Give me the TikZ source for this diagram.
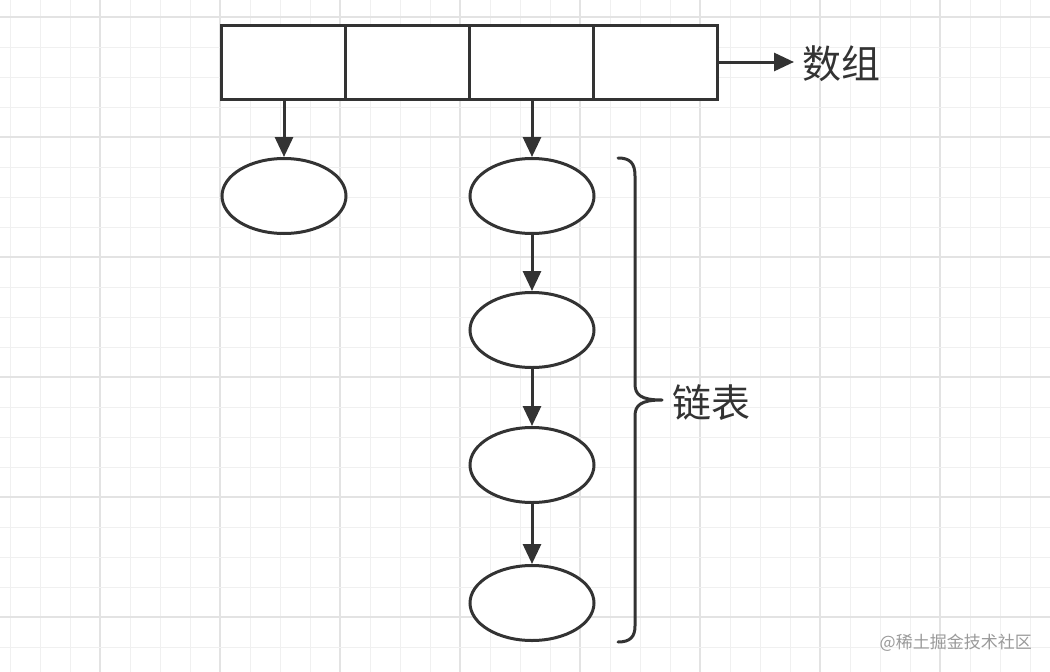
\documentclass[tikz,border=0pt]{standalone}
\usepackage{fontspec}
\newfontfamily\cjk{Noto Sans CJK SC}
\usetikzlibrary{arrows.meta,shapes.geometric}
\definecolor{ink}{HTML}{333333}
\definecolor{gridminor}{HTML}{F0F0F0}
\definecolor{gridmajor}{HTML}{E3E3E3}
\definecolor{wm}{HTML}{9A9A9A}
\tikzset{
  cellbox/.style={draw=ink, line width=3pt, minimum width=124pt, minimum height=74pt, inner sep=0pt, fill=white},
  listnode/.style={draw=ink, line width=3pt, ellipse, minimum width=124pt, minimum height=75pt, inner sep=0pt, fill=white},
  link/.style={draw=ink, line width=3pt, -{Triangle[length=20pt,width=18pt]}},
  label/.style={font=\cjk\fontsize{39}{42}\selectfont, text=ink, inner sep=0pt},
}
\begin{document}
\begin{tikzpicture}[x=1pt,y=-1pt]
\useasboundingbox (0,0) rectangle (1050,672);
\fill[white] (0,0) rectangle (1050,672);
% grid
\foreach \k in {0,...,34} {
  \pgfmathtruncatemacro\m{mod(\k,4)}
  \ifnum\m=3 \draw[gridmajor,line width=1.2pt] (10+30*\k,0) -- (10+30*\k,672);
  \else \draw[gridminor,line width=1pt] (10+30*\k,0) -- (10+30*\k,672); \fi
}
\foreach \k in {0,...,22} {
  \pgfmathtruncatemacro\m{mod(\k,4)}
  \ifnum\m=0 \draw[gridmajor,line width=1.2pt] (0,17+30*\k) -- (1050,17+30*\k);
  \else \draw[gridminor,line width=1pt] (0,17+30*\k) -- (1050,17+30*\k); \fi
}
% array
\node[cellbox] (c1) at (283.5,62) {};
\node[cellbox] (c2) at (407.5,62) {};
\node[cellbox] (c3) at (531.5,62) {};
\node[cellbox] (c4) at (655.5,62) {};
\node[label, anchor=west] (arr) at (802,64) {数组};
\coordinate (arrtip) at (794,62);
\draw[link] (c4.east) -- (arrtip);
% nodes
\node[listnode] (a) at (284,196) {};
\node[listnode] (b1) at (532,196) {};
\node[listnode] (b2) at (532,330) {};
\node[listnode] (b3) at (532,465) {};
\node[listnode] (b4) at (532,603) {};
\draw[link] (c1.south -| a) -- (a.north);
\draw[link] (c3.south -| b1) -- (b1.north);
\draw[link] (b1) -- (b2);
\draw[link] (b2) -- (b3);
\draw[link] (b3) -- (b4);
% brace
\draw[ink, line width=3pt, line cap=round, line join=round]
  (618,158) .. controls (630,158) and (635,163) .. (635,176) -- (635,384)
  .. controls (635,395) and (641,400) .. (662,400)
  .. controls (641,400) and (635,405) .. (635,416) -- (635,626)
  .. controls (635,637) and (630,642) .. (618,642);
\node[label, anchor=west] (list) at (672,403) {链表};
% watermark
\node[font=\cjk\fontsize{17}{20}\selectfont, text=wm, anchor=east, inner sep=0pt] (wmk) at (1032,643) {@稀土掘金技术社区};
\end{tikzpicture}
\end{document}
